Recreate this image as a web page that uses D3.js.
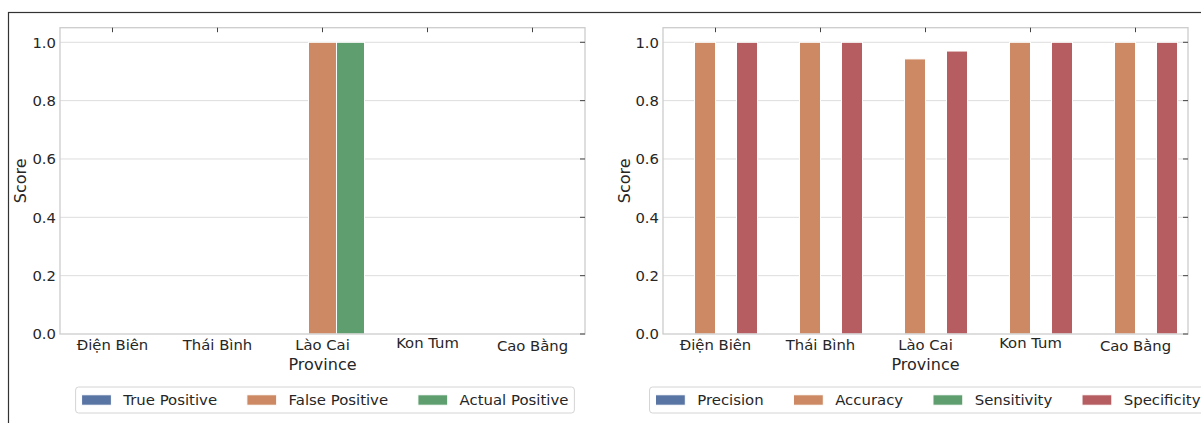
<!DOCTYPE html>
<html>
<head>
<meta charset="utf-8">
<script src="https://cdn.jsdelivr.net/npm/d3@7/dist/d3.min.js"></script>
<style>
  html, body { margin: 0; padding: 0; background: #ffffff; }
  svg { display: block; }
  text { font-family: "DejaVu Sans", sans-serif; fill: #262626; }
</style>
</head>
<body>
<svg id="chart" width="1201" height="423"></svg>
<script>
// Provinces on the x axis
const provinces = ["Điện Biên", "Thái Bình", "Lào Cai", "Kon Tum", "Cao Bằng"];

// Left panel: positive counts (normalised)
const truePositive   = [0, 0, 0, 0, 0];
const falsePositive  = [0, 0, 1, 0, 0];
const actualPositive = [0, 0, 1, 0, 0];

// Right panel: classification metrics
const precision   = [0, 0, 0, 0, 0];
const accuracy    = [1, 1, 0.943, 1, 1];
const sensitivity = [0, 0, 0, 0, 0];
const specificity = [1, 1, 0.97, 1, 1];

const yTicks = [0, 0.2, 0.4, 0.6, 0.8, 1.0];

const palette = ["#5975a4", "#cc8963", "#5f9e6e", "#b55d60"];

const leftSeries = [
  { name: "True Positive",   values: truePositive },
  { name: "False Positive",  values: falsePositive },
  { name: "Actual Positive", values: actualPositive }
];
const rightSeries = [
  { name: "Precision",   values: precision },
  { name: "Accuracy",    values: accuracy },
  { name: "Sensitivity", values: sensitivity },
  { name: "Specificity", values: specificity }
];

const svg = d3.select("#chart");
const TICK_FS = 14.8, LABEL_FS = 16, LEGEND_FS = 14.9;

// figure frame
svg.append("rect")
  .attr("x", 8.5).attr("y", 12.5)
  .attr("width", 1300).attr("height", 500)
  .attr("fill", "none").attr("stroke", "#333333").attr("stroke-width", 1.2);

// ink-top measurement, so category labels hang from their visible top
const measureCtx = document.createElement("canvas").getContext("2d");
function inkAscent(str, fs) {
  measureCtx.font = fs + "px 'DejaVu Sans'";
  return measureCtx.measureText(str).actualBoundingBoxAscent;
}

function drawPanel(x0, x1, series, yLabelX) {
  const top = 27.7, bottom = 334;
  const g = svg.append("g");

  const x = d3.scaleBand().domain(provinces).range([x0, x1]).paddingInner(0).paddingOuter(0);
  const y = d3.scaleLinear().domain([0, 1.05]).range([bottom, top]);
  const groupW = x.bandwidth() * 0.8;
  const sub = d3.scaleBand().domain(series.map(s => s.name)).range([0, groupW]);

  // grid
  g.append("g").selectAll("line").data(yTicks.filter(t => t > 0)).join("line")
    .attr("x1", x0).attr("x2", x1)
    .attr("y1", d => y(d)).attr("y2", d => y(d))
    .attr("stroke", "#dddddd").attr("stroke-width", 1);

  // bars
  series.forEach((s, si) => {
    g.append("g").selectAll("rect").data(s.values).join("rect")
      .attr("x", (d, i) => x(provinces[i]) + (x.bandwidth() - groupW) / 2 + sub(s.name))
      .attr("width", sub.bandwidth())
      .attr("y", d => y(d))
      .attr("height", d => y(0) - y(d))
      .attr("fill", palette[si])
      .attr("stroke", "#ffffff").attr("stroke-width", 1);
  });

  // frame
  g.append("rect")
    .attr("x", x0).attr("y", top).attr("width", x1 - x0).attr("height", bottom - top)
    .attr("fill", "none").attr("stroke", "#cccccc").attr("stroke-width", 1.3);

  // top ticks (inward) at categories
  g.append("g").selectAll("line").data(provinces).join("line")
    .attr("x1", d => x(d) + x.bandwidth() / 2).attr("x2", d => x(d) + x.bandwidth() / 2)
    .attr("y1", top).attr("y2", top + 4.5)
    .attr("stroke", "#444444").attr("stroke-width", 1);

  // right ticks (inward) at y values
  g.append("g").selectAll("line").data(yTicks).join("line")
    .attr("x1", x1 - 5).attr("x2", x1)
    .attr("y1", d => y(d)).attr("y2", d => y(d))
    .attr("stroke", "#444444").attr("stroke-width", 1);

  // y tick labels
  g.append("g").selectAll("text").data(yTicks).join("text")
    .attr("x", x0 - 4).attr("y", d => y(d))
    .attr("dy", "0.36em")
    .attr("text-anchor", "end")
    .style("font-size", TICK_FS + "px")
    .text(d => d.toFixed(1));

  // category labels hang from their ink top
  const labelTop = 337.5;
  g.append("g").selectAll("text").data(provinces).join("text")
    .attr("x", d => x(d) + x.bandwidth() / 2)
    .attr("y", d => labelTop + inkAscent(d, TICK_FS))
    .attr("text-anchor", "middle")
    .style("font-size", TICK_FS + "px")
    .text(d => d);

  // axis titles
  g.append("text")
    .attr("x", (x0 + x1) / 2).attr("y", 370)
    .attr("text-anchor", "middle")
    .style("font-size", LABEL_FS + "px")
    .text("Province");

  g.append("text")
    .attr("transform", `translate(${yLabelX},${(top + bottom) / 2}) rotate(-90)`)
    .attr("text-anchor", "middle")
    .style("font-size", LABEL_FS + "px")
    .text("Score");

  // legend, centred under the panel
  const fs = LEGEND_FS;
  const lg = svg.append("g");
  const items = [];
  let cursor = 0.4 * fs;
  series.forEach((s, si) => {
    const t = lg.append("text").style("font-size", fs + "px").text(s.name);
    const w = t.node().getComputedTextLength();
    items.push({ s, si, t, hx: cursor, tx: cursor + 2.8 * fs, w });
    cursor += 2.8 * fs + w + 2 * fs;
  });
  const totalW = cursor - 2 * fs + 0.4 * fs;
  const lx = (x0 + x1) / 2 + 2.5 - totalW / 2;
  const ly = 387, lh = 26, cy = ly + lh / 2;
  lg.insert("rect", ":first-child")
    .attr("x", lx).attr("y", ly).attr("width", totalW).attr("height", lh)
    .attr("rx", 3).attr("ry", 3)
    .attr("fill", "#ffffff").attr("stroke", "#d4d4d4").attr("stroke-width", 1);
  items.forEach(it => {
    lg.append("rect")
      .attr("x", lx + it.hx).attr("y", cy - 0.35 * fs)
      .attr("width", 2 * fs).attr("height", 0.7 * fs)
      .attr("fill", palette[it.si]).attr("stroke", "#ffffff").attr("stroke-width", 1);
    it.t.attr("x", lx + it.tx).attr("y", cy).attr("dy", "0.36em");
  });
}

drawPanel(60, 585, leftSeries, 26);
drawPanel(663, 1188, rightSeries, 630);
</script>
</body>
</html>
